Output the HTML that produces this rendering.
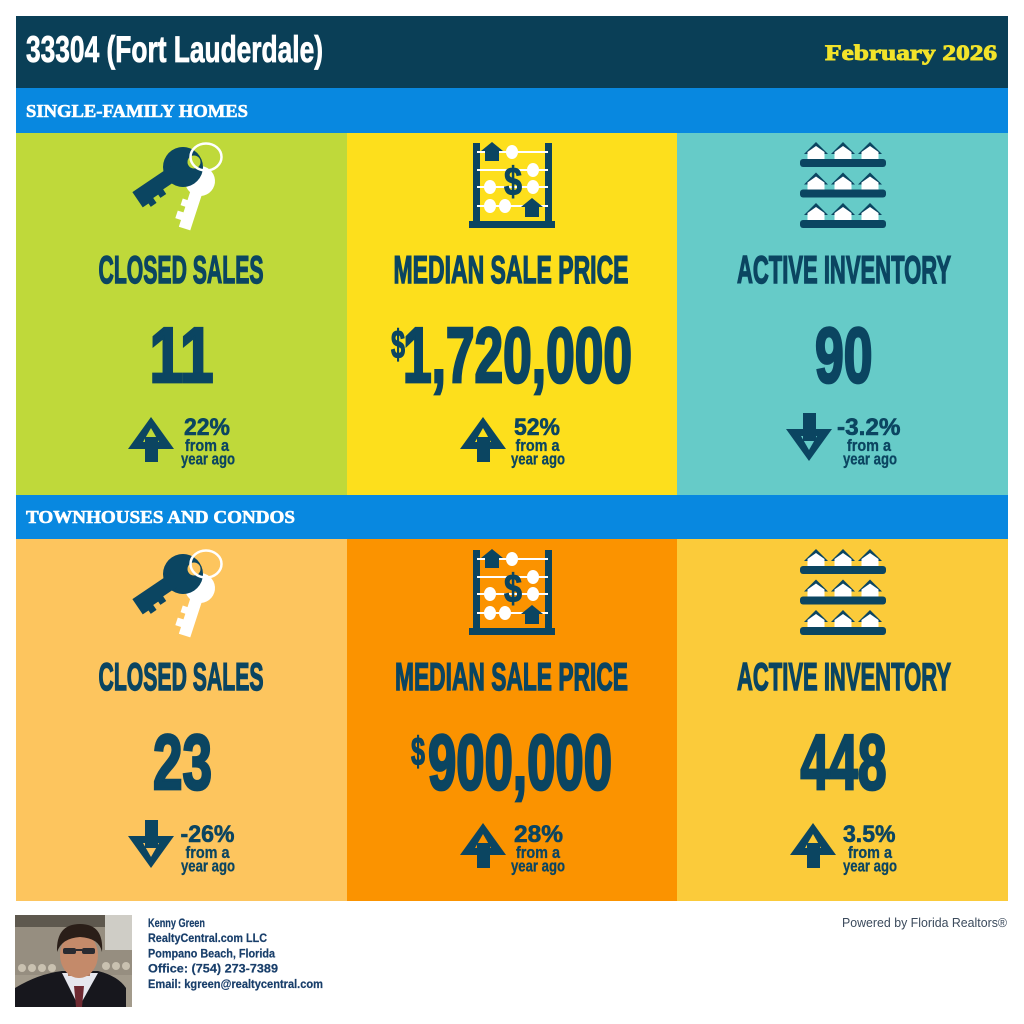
<!DOCTYPE html>
<html>
<head>
<meta charset="utf-8">
<style>
html,body{margin:0;padding:0;background:#fff;}
svg{display:block;}
</style>
</head>
<body>
<svg width="1024" height="1024" viewBox="0 0 1024 1024" xmlns="http://www.w3.org/2000/svg">
<rect x="0" y="0" width="1024" height="1024" fill="#ffffff"/>

<!-- Header -->
<rect x="16" y="16" width="992" height="72" fill="#0a3f57"/>
<text x="26" y="62" font-family="Liberation Sans, sans-serif" font-weight="bold" font-size="37" fill="#ffffff" stroke="#ffffff" stroke-width="0.8" textLength="297" lengthAdjust="spacingAndGlyphs">33304 (Fort Lauderdale)</text>
<text x="825" y="60" font-family="Liberation Serif, serif" font-weight="bold" font-size="22" fill="#f2e32a" stroke="#f2e32a" stroke-width="0.9" textLength="172" lengthAdjust="spacingAndGlyphs">February 2026</text>

<!-- Band 1 -->
<rect x="16" y="88" width="992" height="45" fill="#0888e0"/>
<text x="26" y="117" font-family="Liberation Serif, serif" font-weight="bold" font-size="17.5" fill="#ffffff" stroke="#ffffff" stroke-width="0.6" textLength="222" lengthAdjust="spacingAndGlyphs">SINGLE-FAMILY HOMES</text>

<!-- Row 1 panels -->
<rect x="16" y="133" width="331" height="362" fill="#bfd93a"/>
<rect x="347" y="133" width="330" height="362" fill="#fddf1c"/>
<rect x="677" y="133" width="331" height="362" fill="#66cbc8"/>

<!-- Band 2 -->
<rect x="16" y="495" width="992" height="44" fill="#0888e0"/>
<text x="26" y="523" font-family="Liberation Serif, serif" font-weight="bold" font-size="17.5" fill="#ffffff" stroke="#ffffff" stroke-width="0.6" textLength="269" lengthAdjust="spacingAndGlyphs">TOWNHOUSES AND CONDOS</text>

<!-- Row 2 panels -->
<rect x="16" y="539" width="331" height="362" fill="#fdc55e"/>
<rect x="347" y="539" width="330" height="362" fill="#fb9300"/>
<rect x="677" y="539" width="331" height="362" fill="#fbcb3a"/>

<!-- ===== KEY ICONS ===== -->
<g>
  <g transform="translate(200,181) rotate(-72)">
    <circle cx="0" cy="0" r="15" fill="#ffffff"/>
    <polygon points="-8,-6 -22,-6 -22,-11 -29,-11 -29,-6 -35,-6 -35,-12 -43,-12 -43,-6 -50,-6 -50,6 -8,6" fill="#ffffff"/>
  </g>
  <g transform="translate(183,167) rotate(-34)">
    <circle cx="0" cy="0" r="20" fill="#0b4561"/>
    <polygon points="-10,-7.5 -56,-7.5 -56,11 -49,11 -49,15 -42,15 -42,9 -36,9 -36,13 -29,13 -29,7.5 -10,7.5" fill="#0b4561"/>
  </g>
  <circle cx="194" cy="162" r="6.5" fill="#bfd93a"/>
  <ellipse cx="206" cy="157" rx="15.5" ry="13.5" fill="none" stroke="#ffffff" stroke-width="2.5"/>
</g>
<g transform="translate(0,407)">
  <g transform="translate(200,181) rotate(-72)">
    <circle cx="0" cy="0" r="15" fill="#ffffff"/>
    <polygon points="-8,-6 -22,-6 -22,-11 -29,-11 -29,-6 -35,-6 -35,-12 -43,-12 -43,-6 -50,-6 -50,6 -8,6" fill="#ffffff"/>
  </g>
  <g transform="translate(183,167) rotate(-34)">
    <circle cx="0" cy="0" r="20" fill="#0b4561"/>
    <polygon points="-10,-7.5 -56,-7.5 -56,11 -49,11 -49,15 -42,15 -42,9 -36,9 -36,13 -29,13 -29,7.5 -10,7.5" fill="#0b4561"/>
  </g>
  <circle cx="194" cy="162" r="6.5" fill="#fdc55e"/>
  <ellipse cx="206" cy="157" rx="15.5" ry="13.5" fill="none" stroke="#ffffff" stroke-width="2.5"/>
</g>

<!-- ===== ABACUS ICONS ===== -->
<g>
  <rect x="473" y="143" width="7" height="85" fill="#0b4561"/>
  <rect x="545" y="143" width="7" height="85" fill="#0b4561"/>
  <rect x="469" y="221" width="86" height="7" fill="#0b4561"/>
  <g stroke="#ffffff" stroke-width="2">
    <line x1="477" y1="152" x2="548" y2="152"/>
    <line x1="477" y1="170" x2="548" y2="170"/>
    <line x1="477" y1="187" x2="548" y2="187"/>
    <line x1="477" y1="206" x2="548" y2="206"/>
  </g>
  <g fill="#ffffff">
    <ellipse cx="512" cy="152" rx="6" ry="7"/>
    <ellipse cx="533" cy="170" rx="6" ry="7"/>
    <ellipse cx="490" cy="187" rx="6" ry="7"/>
    <ellipse cx="533" cy="187" rx="6" ry="7"/>
    <ellipse cx="490" cy="206" rx="6" ry="7"/>
    <ellipse cx="505" cy="206" rx="6" ry="7"/>
  </g>
  <polygon points="481,151 492,142 503,151 499,151 499,161 485,161 485,151" fill="#0b4561"/>
  <polygon points="521,207 532,198 543,207 539,207 539,217 525,217 525,207" fill="#0b4561"/>
  <text x="504" y="195" font-family="Liberation Sans, sans-serif" font-weight="bold" font-size="40" fill="#0b4561" stroke="#0b4561" stroke-width="1" textLength="18" lengthAdjust="spacingAndGlyphs">$</text>
</g>
<g transform="translate(0,407)">
  <rect x="473" y="143" width="7" height="85" fill="#0b4561"/>
  <rect x="545" y="143" width="7" height="85" fill="#0b4561"/>
  <rect x="469" y="221" width="86" height="7" fill="#0b4561"/>
  <g stroke="#ffffff" stroke-width="2">
    <line x1="477" y1="152" x2="548" y2="152"/>
    <line x1="477" y1="170" x2="548" y2="170"/>
    <line x1="477" y1="187" x2="548" y2="187"/>
    <line x1="477" y1="206" x2="548" y2="206"/>
  </g>
  <g fill="#ffffff">
    <ellipse cx="512" cy="152" rx="6" ry="7"/>
    <ellipse cx="533" cy="170" rx="6" ry="7"/>
    <ellipse cx="490" cy="187" rx="6" ry="7"/>
    <ellipse cx="533" cy="187" rx="6" ry="7"/>
    <ellipse cx="490" cy="206" rx="6" ry="7"/>
    <ellipse cx="505" cy="206" rx="6" ry="7"/>
  </g>
  <polygon points="481,151 492,142 503,151 499,151 499,161 485,161 485,151" fill="#0b4561"/>
  <polygon points="521,207 532,198 543,207 539,207 539,217 525,217 525,207" fill="#0b4561"/>
  <text x="504" y="195" font-family="Liberation Sans, sans-serif" font-weight="bold" font-size="40" fill="#0b4561" stroke="#0b4561" stroke-width="1" textLength="18" lengthAdjust="spacingAndGlyphs">$</text>
</g>

<!-- ===== HOUSES ICONS ===== -->
<g>
  <g transform="translate(816,142)"><polygon points="-12,12 0,0 12,12" fill="#0b4561"/><polygon points="-8.5,18 -8.5,10 0,4 8.5,10 8.5,18" fill="#ffffff"/></g>
  <g transform="translate(843,142)"><polygon points="-12,12 0,0 12,12" fill="#0b4561"/><polygon points="-8.5,18 -8.5,10 0,4 8.5,10 8.5,18" fill="#ffffff"/></g>
  <g transform="translate(870,142)"><polygon points="-12,12 0,0 12,12" fill="#0b4561"/><polygon points="-8.5,18 -8.5,10 0,4 8.5,10 8.5,18" fill="#ffffff"/></g>
  <rect x="800" y="159" width="86" height="8" rx="3" fill="#0b4561"/>
  <g transform="translate(816,172.5)"><polygon points="-12,12 0,0 12,12" fill="#0b4561"/><polygon points="-8.5,18 -8.5,10 0,4 8.5,10 8.5,18" fill="#ffffff"/></g>
  <g transform="translate(843,172.5)"><polygon points="-12,12 0,0 12,12" fill="#0b4561"/><polygon points="-8.5,18 -8.5,10 0,4 8.5,10 8.5,18" fill="#ffffff"/></g>
  <g transform="translate(870,172.5)"><polygon points="-12,12 0,0 12,12" fill="#0b4561"/><polygon points="-8.5,18 -8.5,10 0,4 8.5,10 8.5,18" fill="#ffffff"/></g>
  <rect x="800" y="189.5" width="86" height="8" rx="3" fill="#0b4561"/>
  <g transform="translate(816,203)"><polygon points="-12,12 0,0 12,12" fill="#0b4561"/><polygon points="-8.5,18 -8.5,10 0,4 8.5,10 8.5,18" fill="#ffffff"/></g>
  <g transform="translate(843,203)"><polygon points="-12,12 0,0 12,12" fill="#0b4561"/><polygon points="-8.5,18 -8.5,10 0,4 8.5,10 8.5,18" fill="#ffffff"/></g>
  <g transform="translate(870,203)"><polygon points="-12,12 0,0 12,12" fill="#0b4561"/><polygon points="-8.5,18 -8.5,10 0,4 8.5,10 8.5,18" fill="#ffffff"/></g>
  <rect x="800" y="220" width="86" height="8" rx="3" fill="#0b4561"/>
</g>
<g transform="translate(0,407)">
  <g transform="translate(816,142)"><polygon points="-12,12 0,0 12,12" fill="#0b4561"/><polygon points="-8.5,18 -8.5,10 0,4 8.5,10 8.5,18" fill="#ffffff"/></g>
  <g transform="translate(843,142)"><polygon points="-12,12 0,0 12,12" fill="#0b4561"/><polygon points="-8.5,18 -8.5,10 0,4 8.5,10 8.5,18" fill="#ffffff"/></g>
  <g transform="translate(870,142)"><polygon points="-12,12 0,0 12,12" fill="#0b4561"/><polygon points="-8.5,18 -8.5,10 0,4 8.5,10 8.5,18" fill="#ffffff"/></g>
  <rect x="800" y="159" width="86" height="8" rx="3" fill="#0b4561"/>
  <g transform="translate(816,172.5)"><polygon points="-12,12 0,0 12,12" fill="#0b4561"/><polygon points="-8.5,18 -8.5,10 0,4 8.5,10 8.5,18" fill="#ffffff"/></g>
  <g transform="translate(843,172.5)"><polygon points="-12,12 0,0 12,12" fill="#0b4561"/><polygon points="-8.5,18 -8.5,10 0,4 8.5,10 8.5,18" fill="#ffffff"/></g>
  <g transform="translate(870,172.5)"><polygon points="-12,12 0,0 12,12" fill="#0b4561"/><polygon points="-8.5,18 -8.5,10 0,4 8.5,10 8.5,18" fill="#ffffff"/></g>
  <rect x="800" y="189.5" width="86" height="8" rx="3" fill="#0b4561"/>
  <g transform="translate(816,203)"><polygon points="-12,12 0,0 12,12" fill="#0b4561"/><polygon points="-8.5,18 -8.5,10 0,4 8.5,10 8.5,18" fill="#ffffff"/></g>
  <g transform="translate(843,203)"><polygon points="-12,12 0,0 12,12" fill="#0b4561"/><polygon points="-8.5,18 -8.5,10 0,4 8.5,10 8.5,18" fill="#ffffff"/></g>
  <g transform="translate(870,203)"><polygon points="-12,12 0,0 12,12" fill="#0b4561"/><polygon points="-8.5,18 -8.5,10 0,4 8.5,10 8.5,18" fill="#ffffff"/></g>
  <rect x="800" y="220" width="86" height="8" rx="3" fill="#0b4561"/>
</g>

<!-- ===== TEXT: titles & numbers ===== -->
<g font-family="Liberation Sans, sans-serif" font-weight="bold" fill="#0b4561" stroke="#0b4561">
  <text x="98.5" y="283" font-size="38.5" stroke-width="1.4" textLength="165" lengthAdjust="spacingAndGlyphs">CLOSED SALES</text>
  <text x="393.5" y="283" font-size="38.5" stroke-width="1.4" textLength="235" lengthAdjust="spacingAndGlyphs">MEDIAN SALE PRICE</text>
  <text x="737" y="283" font-size="38.5" stroke-width="1.4" textLength="214" lengthAdjust="spacingAndGlyphs">ACTIVE INVENTORY</text>
  <text x="149.5" y="382" font-size="78" stroke-width="2.8" textLength="64" lengthAdjust="spacingAndGlyphs">11</text>
  <text x="391" y="358" font-size="40" stroke-width="1.2" textLength="14" lengthAdjust="spacingAndGlyphs">$</text>
  <text x="403" y="382" font-size="78" stroke-width="2.8" textLength="229" lengthAdjust="spacingAndGlyphs">1,720,000</text>
  <text x="815" y="382" font-size="78" stroke-width="2.8" textLength="57.5" lengthAdjust="spacingAndGlyphs">90</text>

  <text x="98.5" y="690" font-size="38.5" stroke-width="1.4" textLength="165" lengthAdjust="spacingAndGlyphs">CLOSED SALES</text>
  <text x="395" y="690" font-size="38.5" stroke-width="1.4" textLength="233" lengthAdjust="spacingAndGlyphs">MEDIAN SALE PRICE</text>
  <text x="737" y="690" font-size="38.5" stroke-width="1.4" textLength="214" lengthAdjust="spacingAndGlyphs">ACTIVE INVENTORY</text>
  <text x="153" y="789" font-size="78" stroke-width="2.8" textLength="59" lengthAdjust="spacingAndGlyphs">23</text>
  <text x="411" y="765" font-size="40" stroke-width="1.2" textLength="14" lengthAdjust="spacingAndGlyphs">$</text>
  <text x="428" y="789" font-size="78" stroke-width="2.8" textLength="184" lengthAdjust="spacingAndGlyphs">900,000</text>
  <text x="800.5" y="789" font-size="78" stroke-width="2.8" textLength="86" lengthAdjust="spacingAndGlyphs">448</text>
</g>

<!-- ===== ARROWS ===== -->
<g transform="translate(128,417)">
  <polygon points="0,32 23,0 46,32" fill="#0b4561"/>
  <polygon points="15,25 23,11 31,25" fill="#bfd93a"/>
  <rect x="17" y="20" width="13" height="25" fill="#0b4561"/>
</g>
<g transform="translate(460,417)">
  <polygon points="0,32 23,0 46,32" fill="#0b4561"/>
  <polygon points="15,25 23,11 31,25" fill="#fddf1c"/>
  <rect x="17" y="20" width="13" height="25" fill="#0b4561"/>
</g>
<g transform="translate(786,461) scale(1,-1)">
  <polygon points="0,32 23,0 46,32" fill="#0b4561"/>
  <polygon points="15,25 23,11 31,25" fill="#66cbc8"/>
  <rect x="17" y="20" width="13" height="28" fill="#0b4561"/>
</g>
<g transform="translate(128,868) scale(1,-1)">
  <polygon points="0,32 23,0 46,32" fill="#0b4561"/>
  <polygon points="15,25 23,11 31,25" fill="#fdc55e"/>
  <rect x="17" y="20" width="13" height="28" fill="#0b4561"/>
</g>
<g transform="translate(460,823)">
  <polygon points="0,32 23,0 46,32" fill="#0b4561"/>
  <polygon points="15,25 23,11 31,25" fill="#fb9300"/>
  <rect x="17" y="20" width="13" height="25" fill="#0b4561"/>
</g>
<g transform="translate(790,823)">
  <polygon points="0,32 23,0 46,32" fill="#0b4561"/>
  <polygon points="15,25 23,11 31,25" fill="#fbcb3a"/>
  <rect x="17" y="20" width="13" height="25" fill="#0b4561"/>
</g>

<!-- ===== CHANGE TEXT ===== -->
<g font-family="Liberation Sans, sans-serif" font-weight="bold" fill="#0b4561" stroke="#0b4561">
  <text x="184" y="435" font-size="24" stroke-width="0.6" textLength="46" lengthAdjust="spacingAndGlyphs">22%</text>
  <text x="185" y="451" font-size="17" stroke-width="0.3" textLength="44" lengthAdjust="spacingAndGlyphs">from a</text>
  <text x="181" y="464.5" font-size="17" stroke-width="0.3" textLength="54" lengthAdjust="spacingAndGlyphs">year ago</text>

  <text x="514" y="435" font-size="24" stroke-width="0.6" textLength="46" lengthAdjust="spacingAndGlyphs">52%</text>
  <text x="515.5" y="451" font-size="17" stroke-width="0.3" textLength="44" lengthAdjust="spacingAndGlyphs">from a</text>
  <text x="511" y="464.5" font-size="17" stroke-width="0.3" textLength="54" lengthAdjust="spacingAndGlyphs">year ago</text>

  <text x="837" y="435" font-size="24" stroke-width="0.6" textLength="63.5" lengthAdjust="spacingAndGlyphs">-3.2%</text>
  <text x="847" y="451" font-size="17" stroke-width="0.3" textLength="44" lengthAdjust="spacingAndGlyphs">from a</text>
  <text x="843" y="464.5" font-size="17" stroke-width="0.3" textLength="54" lengthAdjust="spacingAndGlyphs">year ago</text>

  <text x="180.5" y="842" font-size="24" stroke-width="0.6" textLength="54" lengthAdjust="spacingAndGlyphs">-26%</text>
  <text x="185.5" y="858" font-size="17" stroke-width="0.3" textLength="44" lengthAdjust="spacingAndGlyphs">from a</text>
  <text x="181" y="871.5" font-size="17" stroke-width="0.3" textLength="54" lengthAdjust="spacingAndGlyphs">year ago</text>

  <text x="514" y="842" font-size="24" stroke-width="0.6" textLength="49" lengthAdjust="spacingAndGlyphs">28%</text>
  <text x="516" y="858" font-size="17" stroke-width="0.3" textLength="44" lengthAdjust="spacingAndGlyphs">from a</text>
  <text x="511" y="871.5" font-size="17" stroke-width="0.3" textLength="54" lengthAdjust="spacingAndGlyphs">year ago</text>

  <text x="843" y="842" font-size="24" stroke-width="0.6" textLength="52.5" lengthAdjust="spacingAndGlyphs">3.5%</text>
  <text x="848" y="858" font-size="17" stroke-width="0.3" textLength="44" lengthAdjust="spacingAndGlyphs">from a</text>
  <text x="843" y="871.5" font-size="17" stroke-width="0.3" textLength="54" lengthAdjust="spacingAndGlyphs">year ago</text>
</g>

<!-- ===== FOOTER PHOTO ===== -->
<defs>
  <clipPath id="ph"><rect x="15" y="915" width="117" height="92"/></clipPath>
</defs>
<g clip-path="url(#ph)">
  <rect x="15" y="915" width="117" height="92" fill="#b8b4aa"/>
  <rect x="15" y="915" width="117" height="12" fill="#5e584e"/>
  <rect x="15" y="927" width="117" height="48" fill="#968e80"/>
  <rect x="105" y="915" width="27" height="35" fill="#cfcdc6"/>
  <g fill="#c9c1b0">
    <circle cx="22" cy="968" r="4"/><circle cx="32" cy="968" r="4"/><circle cx="42" cy="968" r="4"/><circle cx="52" cy="968" r="4"/>
    <circle cx="106" cy="966" r="4"/><circle cx="116" cy="966" r="4"/><circle cx="126" cy="966" r="4"/>
  </g>
  <rect x="15" y="975" width="117" height="32" fill="#a39b8c"/>
  <path d="M15,1007 L15,988 Q38,974 62,971 L98,971 Q118,976 126,988 L126,1007 Z" fill="#17171d"/>
  <polygon points="62,973 79,1007 98,973" fill="#e6e7ee"/>
  <polygon points="74,986 84,986 82,1007 76,1007" fill="#6e2a32"/>
  <rect x="68" y="962" width="22" height="14" fill="#b07a60"/>
  <ellipse cx="79" cy="955" rx="19" ry="23" fill="#c48a6a"/>
  <path d="M57,952 Q56,924 80,924 Q104,924 102,952 Q99,938 80,937 Q62,938 57,952 Z" fill="#2a1e18"/>
  <rect x="63" y="948" width="13" height="6" rx="2" fill="#2a2a30"/>
  <rect x="82" y="948" width="13" height="6" rx="2" fill="#2a2a30"/>
  <rect x="76" y="949" width="6" height="2" fill="#2a2a30"/>
</g>

<!-- ===== FOOTER TEXT ===== -->
<g font-family="Liberation Sans, sans-serif" font-weight="bold" font-size="12" fill="#183e6a" stroke="#183e6a" stroke-width="0.2">
  <text x="148" y="927" textLength="57" lengthAdjust="spacingAndGlyphs">Kenny Green</text>
  <text x="148" y="942" textLength="119" lengthAdjust="spacingAndGlyphs">RealtyCentral.com LLC</text>
  <text x="148" y="957.5" textLength="127" lengthAdjust="spacingAndGlyphs">Pompano Beach, Florida</text>
  <text x="148" y="972.5" textLength="130" lengthAdjust="spacingAndGlyphs">Office: (754) 273-7389</text>
  <text x="148" y="988" textLength="175" lengthAdjust="spacingAndGlyphs">Email: kgreen@realtycentral.com</text>
</g>
<text x="842" y="927" font-family="Liberation Sans, sans-serif" font-size="13" fill="#3b4a5c" textLength="165" lengthAdjust="spacingAndGlyphs">Powered by Florida Realtors®</text>
</svg>
</body>
</html>
